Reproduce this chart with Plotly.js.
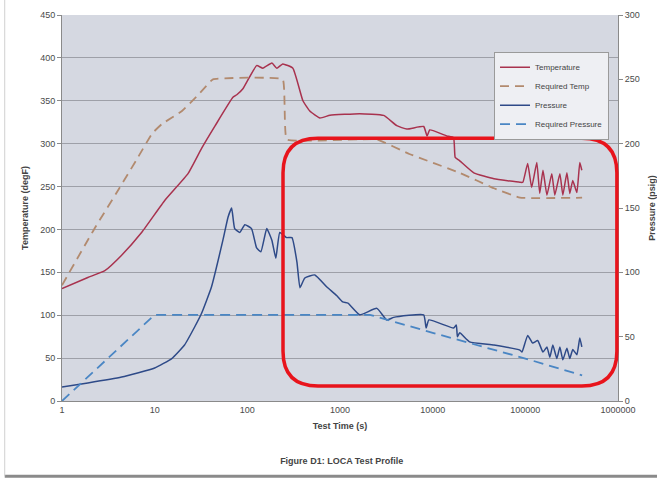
<!DOCTYPE html>
<html>
<head>
<meta charset="utf-8">
<script src="https://cdn.plot.ly/plotly-3.0.1.min.js"></script>
<style>html,body{margin:0;padding:0;background:#fff;}#chart{width:657px;height:479px;}</style>
</head>
<body>
<div id="chart"></div>
<script>
// Temperature (degF) vs time (s)
var tempTime = [1, 1.9, 2.9, 4.4, 7.3, 12.9, 22.9, 32.3, 45, 69.9, 77, 89.6, 126, 147, 184, 208, 241, 310, 398, 472, 607, 779, 1630, 2960, 4100, 5260, 8000, 8700, 9300, 14200, 16800, 17500, 19600, 27800, 45900, 87500,
  94000, 106000, 117000, 133000, 143000, 155000, 171000, 193000, 208000, 236000, 254000, 281000, 302000, 325000, 360000, 387000, 407000];
var tempVals = [131, 144, 152, 170, 197, 234, 265, 295, 321, 354, 357, 364, 391, 388, 394, 388, 393, 388, 350, 338, 330, 333, 335, 333, 321, 317, 320, 309, 316, 309, 307, 284, 280, 266, 259, 255,
  255, 277, 249, 278, 242, 269, 240, 265, 240, 265, 240, 266, 242, 257, 243, 278, 269];

// Required temperature profile
var reqTempTime = [1, 2.27, 4.0, 6.6, 9.4, 12, 19.7, 29, 42.6, 241, 266, 2500, 5600, 19600, 45900, 87500, 410000];
var reqTempVals = [135, 202, 245, 284, 312, 323, 338, 356, 375, 375, 305, 305, 288, 266, 248, 237, 237];

// Pressure (psig)
var presTime = [1, 1.9, 4.4, 10, 15.3, 21, 27, 32, 41, 54.5, 62, 67.7, 73, 83, 94, 111, 126, 140, 162, 184, 203, 224, 265, 303, 343, 370, 417, 535, 722, 920, 1070, 1220, 1630, 2500, 3200, 3800, 8000, 8500, 9100, 16800, 18000, 18500, 19600, 25000, 45900, 87500,
  92000, 106000, 120000, 136000, 155000, 171000, 184000, 198000, 219000, 236000, 254000, 281000, 302000, 325000, 360000, 387000, 407000];
var presVals = [10.9, 14, 18.6, 25.6, 33, 43.5, 57.5, 68, 88.6, 125, 143, 150, 134, 131, 137, 134, 119, 116, 134, 125, 111, 131, 127, 127, 108, 88, 95.6, 98, 88.6, 82, 77, 76, 67, 72, 63, 65, 67, 56.7, 63, 56.7, 59, 50, 53, 46, 43.5, 39.6,
  38, 51, 45, 47, 38, 42, 34, 43.5, 33, 42, 32, 41, 33, 40, 36, 49, 42];

// Required pressure profile
var reqPresTime = [1, 10, 2100, 10000, 100000, 410000];
var reqPresVals = [0, 67, 67, 53, 33, 20];

var xTickVals = [1, 10, 100, 1000, 10000, 100000, 1000000];
var xTickText = ['1', '10', '100', '1000', '10000', '100000', '1000000'];

var FONT = 'Liberation Sans, Arial, sans-serif';

var traces = [
  {x: tempTime, y: tempVals, name: 'Temperature', type: 'scatter', mode: 'lines', yaxis: 'y',
   line: {color: '#a8324e', width: 1.5, shape: 'spline', smoothing: 0.4}},
  {x: reqTempTime, y: reqTempVals, name: 'Required Temp', type: 'scatter', mode: 'lines', yaxis: 'y',
   line: {color: '#b28a6e', width: 1.8, dash: '9px,6px', shape: 'spline', smoothing: 0.25}},
  {x: presTime, y: presVals, name: 'Pressure', type: 'scatter', mode: 'lines', yaxis: 'y2',
   line: {color: '#2e4a88', width: 1.5, shape: 'spline', smoothing: 0.4}},
  {x: reqPresTime, y: reqPresVals, name: 'Required Pressure', type: 'scatter', mode: 'lines', yaxis: 'y2',
   line: {color: '#4a86c4', width: 1.8, dash: '10px,6px'}}
];

// rounded highlight rectangle (paper coords)
var x0 = 0.3975, x1 = 0.998, y0 = 0.039, y1 = 0.681, rx = 0.063, ry = 0.09;
var rectPath = 'M ' + (x0 + rx) + ' ' + y1 + ' L ' + (x1 - rx) + ' ' + y1 +
  ' Q ' + x1 + ' ' + y1 + ' ' + x1 + ' ' + (y1 - ry) +
  ' L ' + x1 + ' ' + (y0 + ry) + ' Q ' + x1 + ' ' + y0 + ' ' + (x1 - rx) + ' ' + y0 +
  ' L ' + (x0 + rx) + ' ' + y0 + ' Q ' + x0 + ' ' + y0 + ' ' + x0 + ' ' + (y0 + ry) +
  ' L ' + x0 + ' ' + (y1 - ry) + ' Q ' + x0 + ' ' + y1 + ' ' + (x0 + rx) + ' ' + y1 + ' Z';

var layout = {
  width: 657, height: 479,
  margin: {l: 62, r: 39, t: 15, b: 78},
  paper_bgcolor: '#ffffff',
  plot_bgcolor: '#d5d8e1',
  font: {family: FONT, size: 9, color: '#4a4a4a'},
  showlegend: true,
  title: {text: '<b>Figure D1: LOCA Test Profile</b>', font: {family: FONT, size: 9, color: '#444'},
          x: 0.52, xanchor: 'center', y: 0.038, yref: 'container', yanchor: 'middle'},
  xaxis: {type: 'log', range: [0, 6], tickvals: xTickVals, ticktext: xTickText,
          showgrid: false, zeroline: false, showline: true, linecolor: '#8a8a8a', linewidth: 1,
          ticks: '', tickfont: {family: FONT, size: 9, color: '#4a4a4a'},
          title: {text: '<b>Test Time (s)</b>', font: {family: FONT, size: 9, color: '#444'}, standoff: 8}},
  yaxis: {range: [0, 450], dtick: 50, tick0: 0, showgrid: true, gridcolor: '#9ea0a8', gridwidth: 1,
          zeroline: false, showline: true, linecolor: '#8a8a8a', ticks: 'outside', ticklen: 4, tickcolor: '#8a8a8a',
          tickfont: {family: FONT, size: 9, color: '#4a4a4a'},
          title: {text: '<b>Temperature (degF)</b>', font: {family: FONT, size: 9, color: '#444'}, standoff: 10}},
  yaxis2: {range: [0, 300], dtick: 50, tick0: 0, overlaying: 'y', side: 'right', showgrid: false,
           zeroline: false, showline: true, linecolor: '#8a8a8a', ticks: 'outside', ticklen: 4, tickcolor: '#8a8a8a',
           tickfont: {family: FONT, size: 9, color: '#4a4a4a'},
           title: {text: '<b>Pressure (psig)</b>', font: {family: FONT, size: 9, color: '#444'}, standoff: 12}},
  legend: {x: 0.777, y: 0.905, xanchor: 'left', yanchor: 'top', bgcolor: '#eeeff3',
           bordercolor: '#9a9a9a', borderwidth: 1, font: {family: FONT, size: 8, color: '#444'},
           tracegroupgap: 0, itemwidth: 30},
  shapes: [
    {type: 'path', xref: 'paper', yref: 'paper', path: rectPath,
     line: {color: '#e8141c', width: 3.5}, fillcolor: 'rgba(0,0,0,0)'},
    {type: 'line', xref: 'paper', yref: 'paper', x0: -0.103, x1: 1.1, y0: -0.195, y1: -0.195,
     line: {color: '#8a8a8a', width: 3}},
    {type: 'line', xref: 'paper', yref: 'paper', x0: -0.103, x1: -0.103, y0: -0.195, y1: 1.04,
     line: {color: '#d0d0d0', width: 1}}
  ]
};

Plotly.newPlot('chart', traces, layout, {displayModeBar: false, staticPlot: true});
</script>
</body>
</html>
